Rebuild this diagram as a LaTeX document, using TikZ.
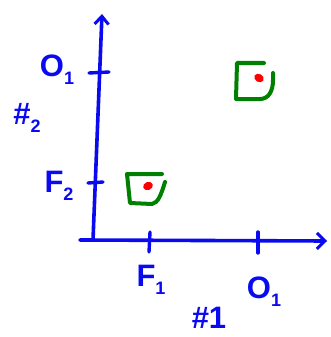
\documentclass[tikz,border=0pt]{standalone}
\usepackage{fontspec}
\setmainfont{Liberation Sans}
\usetikzlibrary{arrows.meta,shapes.geometric}
\definecolor{pen}{RGB}{10,10,240}
\definecolor{boxgreen}{RGB}{0,128,0}
\definecolor{dotred}{RGB}{250,0,0}
\newcommand{\sbs}[1]{\raisebox{-0.25em}{\fontsize{18}{18}\selectfont #1}}
\begin{document}
\begin{tikzpicture}[x=1pt,y=-1pt,
  axis/.style={pen,line width=3.6pt,line cap=round,line join=round},
  tick/.style={pen,line width=3.4pt,line cap=round},
  lbl/.style={pen,font=\fontsize{31}{31}\selectfont\bfseries,inner sep=0pt},
  sq/.style={boxgreen,line width=4pt,line cap=round,line join=round},
  pt/.style={fill=dotred,draw=none,ellipse,minimum width=10pt,minimum height=8pt,inner sep=0pt}]
\useasboundingbox (0,0) rectangle (330,337);
% axes
\coordinate (origin) at (93,240);
\coordinate (ytop) at (102,14);
\coordinate (xstart) at (80,240);
\coordinate (xend) at (327,241);
\draw[axis,-{Straight Barb[length=8pt,width=14pt,line width=3pt]}] (origin) -- (ytop);
\draw[axis,-{Straight Barb[length=8pt,width=16pt,line width=3pt]}] (xstart) -- (xend);
% ticks
\draw[tick] (89,73) -- (109,72);
\draw[tick] (88,183) -- (103,182);
\draw[tick] (150,232) -- (149,252);
\draw[tick] (258,232) -- (258,253);
% labels
\node[lbl] (lo2) at (57,70) {O\sbs{1}};
\node[lbl] (lp2) at (27,118) {\#\sbs{2}};
\node[lbl] (lf2) at (59,186) {F\sbs{2}};
\node[lbl] (lf1) at (151,280) {F\sbs{1}};
\node[lbl] (lo1) at (264,292) {O\sbs{1}};
\node[lbl] (lp1) at (209,318) {\#1};
% boxes
\draw[sq] (162,174) -- (127,174) -- (130,203) -- (152,204) .. controls (158,203) and (161,195) .. (165,182);
\draw[sq] (264,63) -- (237,63) -- (236,99) -- (260,99) .. controls (268,99) and (273,92) .. (273,80) -- (273,73);
% points
\node[pt,rotate=20] (p1) at (148,186) {};
\node[pt,rotate=-30] (p2) at (259,78) {};
\end{tikzpicture}
\end{document}
